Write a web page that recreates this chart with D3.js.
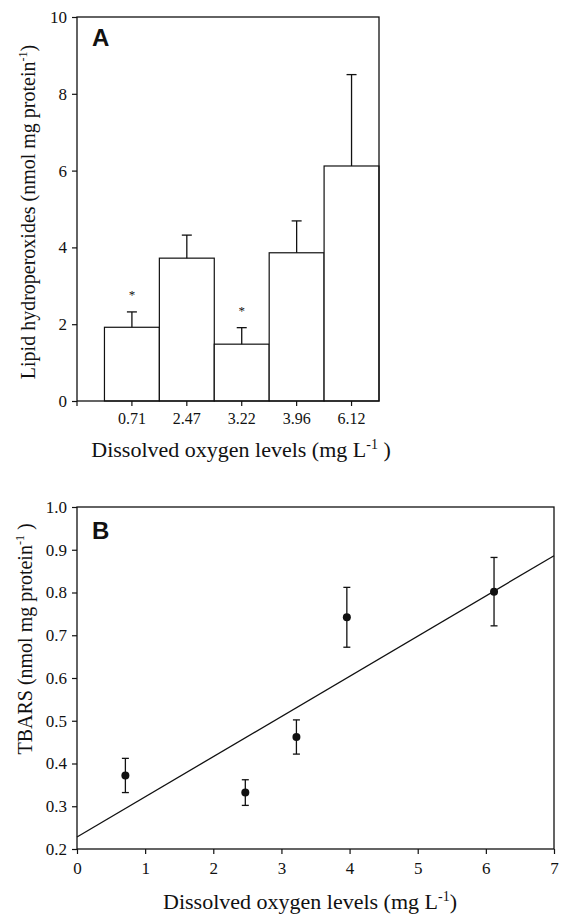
<!DOCTYPE html>
<html>
<head>
<meta charset="utf-8">
<script src="https://cdn.jsdelivr.net/npm/d3@7"></script>
<style>
  body { margin: 0; background: #fff; }
  svg text { font-family: "Liberation Serif", "Times New Roman", serif; fill: #111; }
  .tick line { stroke: #111; stroke-width: 1.2; }
</style>
</head>
<body>
<svg id="chart" width="562" height="916"></svg>
<script>
// panel A - lipid hydroperoxides
const doLevels = ['0.71', '2.47', '3.22', '3.96', '6.12']
const lipidMean = [1.92, 3.72, 1.48, 3.86, 6.12]
const lipidErr = [0.4, 0.6, 0.43, 0.83, 2.38]
const lipidSig = [true, false, true, false, false]
const yTicksA = [0, 2, 4, 6, 8, 10]

// panel B - TBARS
const doX = [0.71, 2.47, 3.22, 3.96, 6.12]
const tbarsMean = [0.372, 0.332, 0.462, 0.742, 0.802]
const tbarsErr = [0.04, 0.03, 0.04, 0.07, 0.08]
const fitLine = [[0, 0.228], [7, 0.886]]
const xTicksB = [0, 1, 2, 3, 4, 5, 6, 7]
const yTicksB = [0.2, 0.3, 0.4, 0.5, 0.6, 0.7, 0.8, 0.9, 1.0]

let svg = d3.select('#chart')

let addTitle = (g, x, y, rot, main, tail, size) => {
    let t = g.append('text')
        .attr('transform', 'translate(' + x + ',' + y + ')' + (rot ? ' rotate(-90)' : ''))
        .attr('text-anchor', 'middle')
        .style('font-size', size + 'px')
    t.append('tspan').text(main)
    t.append('tspan').attr('dy', -8).style('font-size', Math.round(size * 0.62) + 'px').text('-1')
    t.append('tspan').attr('dy', 8).text(tail)
}

// ---------- Panel A ----------
let A = { left: 77, right: 379, top: 17, bottom: 401 }
let bandW = (A.right - A.left) / 5.5
let xA = d3.scaleBand().domain(doLevels).range([A.left + bandW / 2, A.right]).padding(0)
let yA = d3.scaleLinear().domain([0, 10]).range([A.bottom, A.top])
let cxA = (i) => xA(doLevels[i]) + xA.bandwidth() / 2

let gA = svg.append('g')

gA.selectAll('rect.bar')
    .data(lipidMean)
    .enter()
    .append('rect')
    .attr('class', 'bar')
    .attr('x', (d, i) => xA(doLevels[i]))
    .attr('width', xA.bandwidth())
    .attr('y', (d) => yA(d))
    .attr('height', (d) => yA(0) - yA(d))
    .attr('fill', '#fff')
    .attr('stroke', '#111')
    .attr('stroke-width', 1.2)

let errA = gA.selectAll('g.err')
    .data(lipidMean.map((d, i) => ({ m: d, e: lipidErr[i], i: i, sig: lipidSig[i] })))
    .enter()
    .append('g')
    .attr('class', 'err')
errA.append('line')
    .attr('x1', (d) => cxA(d.i)).attr('x2', (d) => cxA(d.i))
    .attr('y1', (d) => yA(d.m))
    .attr('y2', (d) => yA(d.m + d.e))
    .attr('stroke', '#111').attr('stroke-width', 1.3)
errA.append('line')
    .attr('x1', (d) => cxA(d.i) - 5).attr('x2', (d) => cxA(d.i) + 5)
    .attr('y1', (d) => yA(d.m + d.e))
    .attr('y2', (d) => yA(d.m + d.e))
    .attr('stroke', '#111').attr('stroke-width', 1.3)
errA.filter((d) => d.sig)
    .append('text')
    .attr('x', (d) => cxA(d.i))
    .attr('y', (d) => yA(d.m + d.e) - 13)
    .attr('text-anchor', 'middle')
    .style('font-size', '13px')
    .text('*')

// frame
gA.append('rect')
    .attr('x', A.left).attr('y', A.top)
    .attr('width', A.right - A.left).attr('height', A.bottom - A.top)
    .attr('fill', 'none').attr('stroke', '#111').attr('stroke-width', 1.3)

let axA = gA.append('g')
    .attr('transform', 'translate(0,' + A.bottom + ')')
    .call(d3.axisBottom(xA).tickSizeOuter(0).tickSize(5).tickPadding(7))
axA.select('.domain').remove()
axA.append('line').attr('x1', A.left).attr('x2', A.left).attr('y1', 0).attr('y2', 5).attr('stroke', '#111').attr('stroke-width', 1.2)
axA.selectAll('text').style('font-size', '16px').attr('fill', '#111')

let ayA = gA.append('g')
    .attr('transform', 'translate(' + A.left + ',0)')
    .call(d3.axisLeft(yA).tickValues(yTicksA).tickSizeOuter(0).tickSize(5).tickPadding(5))
ayA.select('.domain').remove()
ayA.selectAll('text').style('font-size', '17px').attr('fill', '#111')

gA.append('text')
    .attr('x', A.left + 15).attr('y', 46)
    .style('font-family', '"Liberation Sans", Arial, sans-serif')
    .style('font-weight', 'bold').style('font-size', '24px')
    .text('A')

addTitle(gA, 241, 457, false, 'Dissolved oxygen levels (mg L', ' )', 22)
addTitle(gA, 35, 212, true, 'Lipid hydroperoxides (nmol mg protein', ')', 20)

// ---------- Panel B ----------
let B = { left: 77, right: 554, top: 507, bottom: 849 }
let xB = d3.scaleLinear().domain([0, 7]).range([B.left, B.right])
let yB = d3.scaleLinear().domain([0.2, 1.0]).range([B.bottom, B.top])

let gB = svg.append('g')

gB.append('rect')
    .attr('x', B.left).attr('y', B.top)
    .attr('width', B.right - B.left).attr('height', B.bottom - B.top)
    .attr('fill', 'none').attr('stroke', '#111').attr('stroke-width', 1.3)

gB.append('path')
    .datum(fitLine)
    .attr('d', d3.line().x((d) => xB(d[0])).y((d) => yB(d[1])))
    .attr('fill', 'none').attr('stroke', '#111').attr('stroke-width', 1.3)

let errB = gB.selectAll('g.errb')
    .data(doX)
    .enter()
    .append('g')
    .attr('class', 'errb')
errB.append('line')
    .attr('x1', (d) => xB(d)).attr('x2', (d) => xB(d))
    .attr('y1', (d, i) => yB(tbarsMean[i] - tbarsErr[i]))
    .attr('y2', (d, i) => yB(tbarsMean[i] + tbarsErr[i]))
    .attr('stroke', '#111').attr('stroke-width', 1.3)
errB.append('line')
    .attr('x1', (d) => xB(d) - 3.5).attr('x2', (d) => xB(d) + 3.5)
    .attr('y1', (d, i) => yB(tbarsMean[i] + tbarsErr[i]))
    .attr('y2', (d, i) => yB(tbarsMean[i] + tbarsErr[i]))
    .attr('stroke', '#111').attr('stroke-width', 1.3)
errB.append('line')
    .attr('x1', (d) => xB(d) - 3.5).attr('x2', (d) => xB(d) + 3.5)
    .attr('y1', (d, i) => yB(tbarsMean[i] - tbarsErr[i]))
    .attr('y2', (d, i) => yB(tbarsMean[i] - tbarsErr[i]))
    .attr('stroke', '#111').attr('stroke-width', 1.3)
errB.append('circle')
    .attr('cx', (d) => xB(d))
    .attr('cy', (d, i) => yB(tbarsMean[i]))
    .attr('r', 4)
    .attr('fill', '#111')

let axB = gB.append('g')
    .attr('transform', 'translate(0,' + B.bottom + ')')
    .call(d3.axisBottom(xB).tickValues(xTicksB).tickFormat(d3.format('d')).tickSizeOuter(0).tickSize(5).tickPadding(8))
axB.select('.domain').remove()
axB.selectAll('text').style('font-size', '17px').attr('fill', '#111')

let ayB = gB.append('g')
    .attr('transform', 'translate(' + B.left + ',0)')
    .call(d3.axisLeft(yB).tickValues(yTicksB).tickFormat(d3.format('.1f')).tickSizeOuter(0).tickSize(5).tickPadding(5))
ayB.select('.domain').remove()
ayB.selectAll('text').style('font-size', '17px').attr('fill', '#111')

gB.append('text')
    .attr('x', B.left + 15).attr('y', 539)
    .style('font-family', '"Liberation Sans", Arial, sans-serif')
    .style('font-weight', 'bold').style('font-size', '24px')
    .text('B')

addTitle(gB, 310, 909, false, 'Dissolved oxygen levels (mg L', ')', 22)
addTitle(gB, 32, 639, true, 'TBARS (nmol mg protein', ' )', 20)
</script>
</body>
</html>
